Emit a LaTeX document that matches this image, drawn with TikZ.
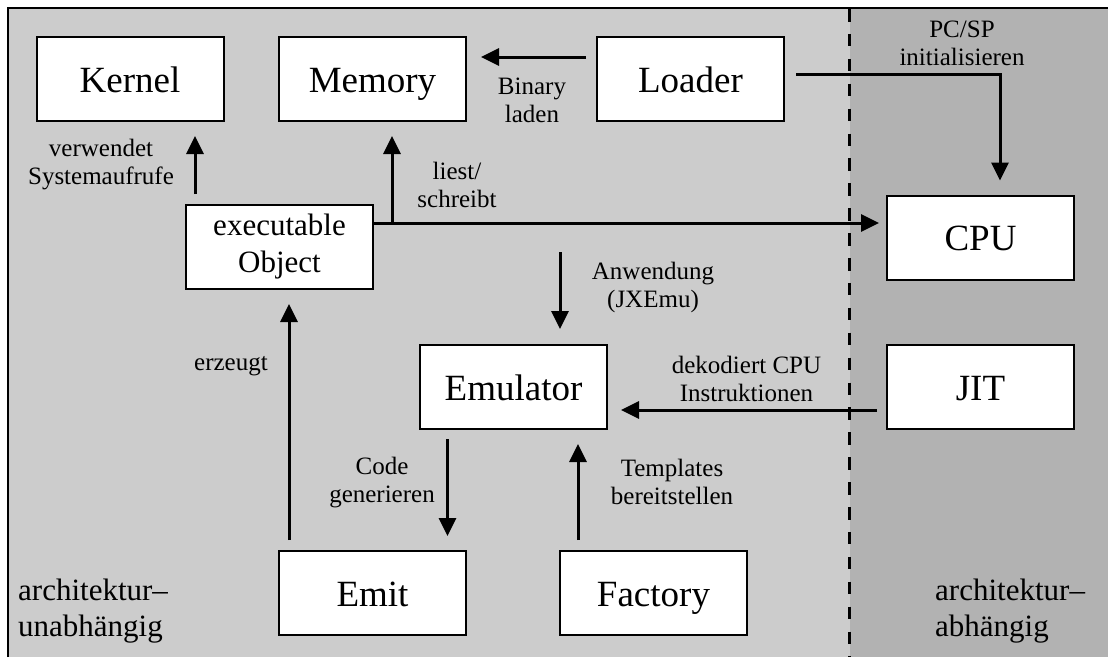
\documentclass[tikz,border=0pt]{standalone}
\usepackage{fontspec}
\setmainfont{Liberation Serif}
\usetikzlibrary{arrows.meta}
\definecolor{paneLight}{RGB}{204,204,204}
\definecolor{paneDark}{RGB}{178,178,178}
\tikzset{
  boxbase/.style={draw, fill=white, line width=2pt, minimum width=187pt,
    minimum height=84pt, inner sep=0pt, align=center},
  block/.style={boxbase, text height=26pt, text depth=0pt,
    font=\fontsize{37}{44}\selectfont},
  twoline/.style={boxbase, font=\fontsize{31}{37}\selectfont},
  arr/.style={line width=3pt, -{Triangle[length=18pt,width=17pt]}},
  note/.style={align=center, inner sep=0pt, font=\fontsize{25}{28}\selectfont},
  region/.style={align=left, inner sep=0pt, anchor=west,
    font=\fontsize{31}{36}\selectfont},
}
\begin{document}
\begin{tikzpicture}[x=1pt,y=-1pt]
\useasboundingbox (0,0) rectangle (1108,657);

% background panes and frame
\fill[paneLight] (8,8) rectangle (1108,657);
\fill[paneDark] (849.7,8) rectangle (1108,657);
\draw[line width=2pt] (8,657) -- (8,8) -- (1108,8);
\draw[line width=3pt, dash pattern=on 12.5pt off 12.4pt] (849.7,9) -- (849.7,657);

% components
\node[block] (kernel)  at (130,79)    {Kernel};
\node[block] (memory)  at (372.5,79)  {Memory};
\node[block] (loader)  at (690.5,79)  {Loader};
\node[block] (cpu)     at (980.5,237.5) {CPU};
\node[twoline] (exec)  at (279.5,247) {executable\\Object};
\node[block] (emu)     at (513.5,387) {Emulator};
\node[block] (jit)     at (980.5,387) {JIT};
\node[block] (emit)    at (372.5,593) {Emit};
\node[block] (factory) at (653.5,593) {Factory};

% helper points
\coordinate (eo) at ([yshift=24pt]exec.east);
\coordinate (mt) at ([xshift=19.5pt]memory.south);
\coordinate (ku) at ([xshift=65pt]kernel.south);
\coordinate (cg) at ([xshift=-66pt]emu.south);
\coordinate (ft) at ([xshift=-75.5pt]factory.north);
\coordinate (ge) at ([xshift=-83.5pt]emit.north);
\coordinate (ji) at ([yshift=-23pt]jit.west);
\coordinate (app) at (560,252);

% connectors
\draw[arr, shorten <=10pt, shorten >=14pt] ([yshift=22pt]loader.west) -- ([yshift=22pt]memory.east);
\draw[arr, shorten <=11pt, shorten >=14pt] ([yshift=5pt]loader.east) -| ([xshift=19.5pt]cpu.north);
\draw[arr, shorten >=7pt] (eo) -- (eo -| cpu.west);
\draw[arr, shorten >=14pt] (eo -| mt) -- (mt);
\draw[arr, shorten <=10pt, shorten >=14pt] (ku |- exec.north) -- (ku);
\draw[arr, shorten >=15pt] (app) -- (app |- emu.north);
\draw[arr, shorten <=9pt, shorten >=14pt] (cg) -- (cg |- emit.north);
\draw[arr, shorten <=10pt, shorten >=14pt] (ft) -- (ft |- emu.south);
\draw[arr, shorten <=9pt, shorten >=13pt] (ji) -- (ji -| emu.east);
\draw[arr, shorten <=10pt, shorten >=14pt] (ge) -- (ge |- exec.south);

% connector labels
\node[note] (l1) at (101,165)   {verwendet\\Systemaufrufe};
\node[note] (l2) at (457,185)   {liest/\\schreibt};
\node[note] (l3) at (532,100)   {Binary\\laden};
\node[note] (l4) at (962,43)    {PC/SP\\initialisieren};
\node[note] (l5) at (653,287.5) {Anwendung\\(JXEmu)};
\node[note] (l6) at (746.5,379) {dekodiert CPU\\Instruktionen};
\node[note] (l7) at (382,482.5) {Code\\generieren};
\node[note] (l8) at (672,482)   {Templates\\bereitstellen};
\node[note] (l9) at (231,366)   {erzeugt};

% pane captions
\node[region] (r1) at (18,611)  {architektur–\\unabhängig};
\node[region] (r2) at (935,611) {architektur–\\abhängig};
\end{tikzpicture}
\end{document}
